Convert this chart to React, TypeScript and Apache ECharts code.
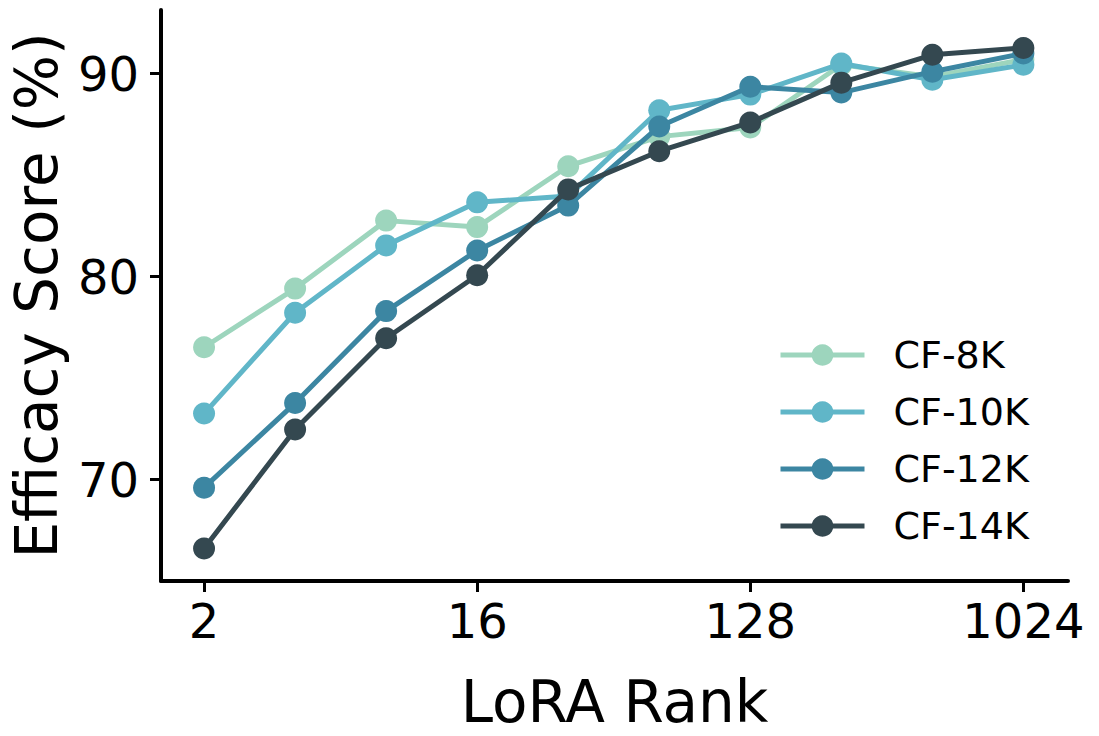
import React, { useEffect, useRef } from "react";
import * as echarts from "echarts";

const ranks = [2, 4, 8, 16, 32, 64, 128, 256, 512, 1024];
const xTickRanks = [2, 16, 128, 1024];
const yTicks = [70, 80, 90];

const seriesNames = ["CF-8K", "CF-10K", "CF-12K", "CF-14K"];
const cf8k = [76.52, 79.41, 82.76, 82.44, 85.44, 86.9, 87.35, 90.44, 89.85, 90.7];
const cf10k = [73.25, 78.22, 81.54, 83.66, 83.97, 88.2, 88.97, 90.5, 89.7, 90.44];
const cf12k = [69.6, 73.77, 78.3, 81.29, 83.5, 87.4, 89.36, 89.07, 90.1, 91.0];
const cf14k = [66.6, 72.47, 76.96, 80.07, 84.3, 86.18, 87.6, 89.56, 90.93, 91.27];
const seriesValues = [cf8k, cf10k, cf12k, cf14k];
const colors = ["#9dd5bd", "#60b6c8", "#3c86a2", "#344850"];

const FONT = "DejaVu Sans";

export default function App() {
  const ref = useRef<HTMLDivElement>(null);
  useEffect(() => {
    if (!ref.current) return;
    const chart = echarts.init(ref.current, undefined, { renderer: "svg" });
    const series = seriesNames.map((name, i) => ({
      name,
      type: "line",
      data: ranks.map((r, j) => [Math.log2(r), seriesValues[i][j]]),
      symbol: "circle",
      symbolSize: 22,
      lineStyle: { width: 5, color: colors[i] },
      itemStyle: { color: colors[i] },
      emphasis: { disabled: true },
      z: 2 + i,
    }));
    chart.setOption({
      animation: false,
      backgroundColor: "#ffffff",
      grid: { left: 160, right: 31, top: 10, bottom: 152, containLabel: false },
      legend: {
        data: seriesNames,
        orient: "vertical",
        left: 773,
        top: 330,
        itemWidth: 84,
        itemHeight: 27,
        itemGap: 17,
        lineStyle: { width: 5 },
        textStyle: { fontFamily: FONT, fontSize: 38, color: "#000", lineHeight: 40, padding: [0, 0, 0, 24] },
      },
      xAxis: {
        type: "value",
        min: 0.527,
        max: 10.49,
        name: "LoRA Rank",
        nameLocation: "middle",
        nameGap: 92,
        nameTextStyle: { fontFamily: FONT, fontSize: 58, color: "#000" },
        axisLine: { show: true, lineStyle: { color: "#000", width: 4 } },
        axisTick: {
          show: true,
          length: 11,
          lineStyle: { color: "#000", width: 3 },
          customValues: xTickRanks.map((r) => Math.log2(r)),
        },
        axisLabel: {
          fontFamily: FONT,
          fontSize: 48,
          color: "#000",
          margin: 16,
          customValues: xTickRanks.map((r) => Math.log2(r)),
          formatter: (v: number) => String(Math.round(Math.pow(2, v))),
        },
        splitLine: { show: false },
      },
      yAxis: {
        type: "value",
        min: 65,
        max: 93.14,
        name: "Efficacy Score (%)",
        nameLocation: "middle",
        nameGap: 95,
        nameTextStyle: { fontFamily: FONT, fontSize: 58, color: "#000" },
        axisLine: { show: true, lineStyle: { color: "#000", width: 4 } },
        axisTick: {
          show: true,
          length: 11,
          lineStyle: { color: "#000", width: 3 },
          customValues: yTicks,
        },
        axisLabel: {
          fontFamily: FONT,
          fontSize: 48,
          color: "#000",
          margin: 22,
          customValues: yTicks,
        },
        splitLine: { show: false },
      },
      series,
    });
    return () => chart.dispose();
  }, []);
  return <div ref={ref} style={{ width: 1099, height: 736, margin: -8 }} />;
}
